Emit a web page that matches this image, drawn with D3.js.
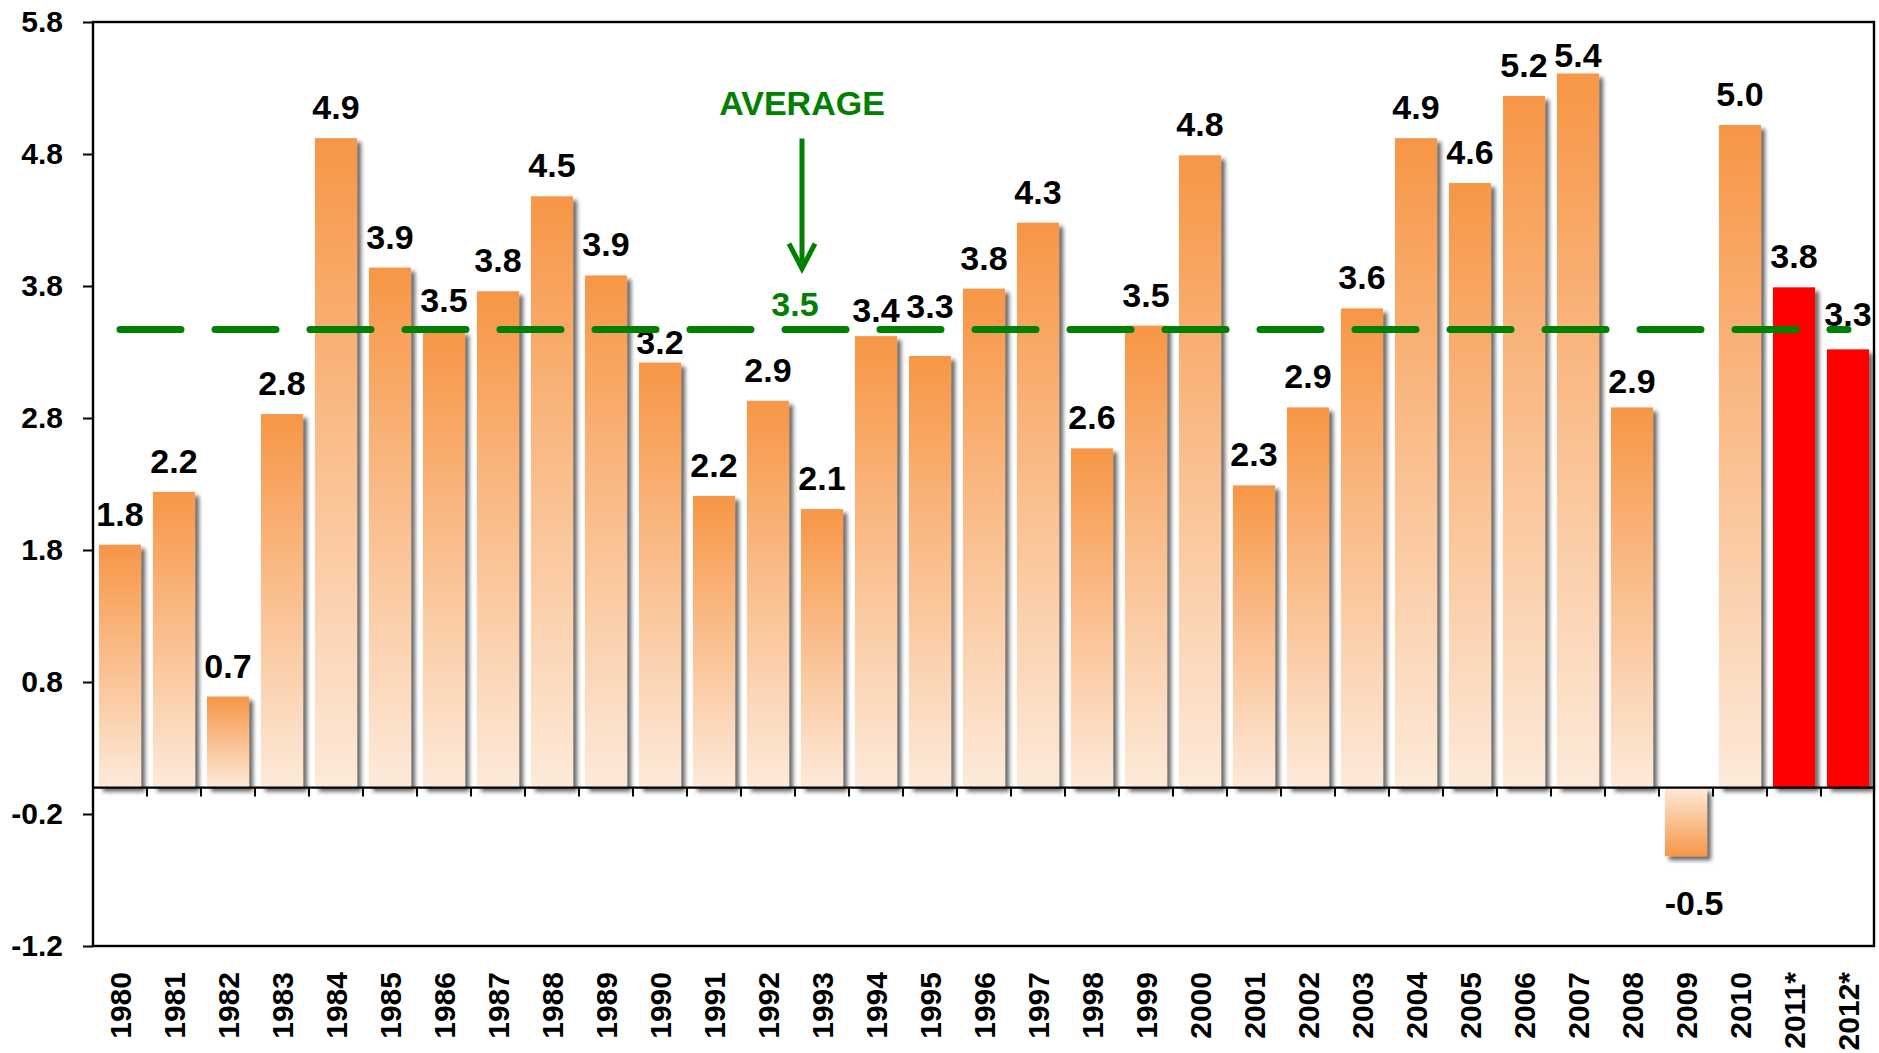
<!DOCTYPE html>
<html>
<head>
<meta charset="utf-8">
<script src="https://cdn.jsdelivr.net/npm/d3@7"></script>
<style>
  body { margin: 0; background: #fff; }
  text { font-family: "Liberation Sans", Arial, sans-serif; font-weight: bold; }
</style>
</head>
<body>
<div id="chart"></div>
<script>
// data
const years = ['1980','1981','1982','1983','1984','1985','1986','1987','1988','1989',
  '1990','1991','1992','1993','1994','1995','1996','1997','1998','1999',
  '2000','2001','2002','2003','2004','2005','2006','2007','2008','2009','2010','2011*','2012*']
const growth = [1.84, 2.24, 0.69, 2.83, 4.92, 3.94, 3.46, 3.76, 4.48, 3.88,
  3.22, 2.21, 2.93, 2.11, 3.42, 3.27, 3.78, 4.28, 2.57, 3.50,
  4.79, 2.29, 2.88, 3.63, 4.92, 4.58, 5.24, 5.41, 2.88, -0.52, 5.02, 3.79, 3.32]
const forecastYears = ['2011*', '2012*']
const average = 3.47
const yTicks = [-1.2, -0.2, 0.8, 1.8, 2.8, 3.8, 4.8, 5.8]

const width = 1879, height = 1053
const margin = {top: 22, right: 5, bottom: 107, left: 93}

// a few labels were moved by hand in the original
const labelShift = {'1990': 10, '1994': 5, '1995': -19, '2008': 5, '2012*': -4}

const data = years.map((y, i) => ({year: y, value: growth[i]}))

const svg = d3.select('#chart').append('svg')
    .attr('width', width)
    .attr('height', height)

const x = d3.scaleBand()
    .domain(years)
    .range([margin.left, width - margin.right + 1])

const y = d3.scaleLinear()
    .domain([yTicks[0], yTicks[yTicks.length - 1]])
    .range([height - margin.bottom, margin.top])

const bw = x.bandwidth()
const inset = bw * 0.11

const defs = svg.append('defs')
const mkGrad = (id, from, to) => {
    const g = defs.append('linearGradient').attr('id', id)
        .attr('x1', 0).attr('y1', 0).attr('x2', 0).attr('y2', 1)
    g.append('stop').attr('offset', '0%').attr('stop-color', from)
    g.append('stop').attr('offset', '100%').attr('stop-color', to)
}
mkGrad('gradPos', '#F79646', '#FDEADA')
mkGrad('gradNeg', '#FDEADA', '#F79646')

const shadow = defs.append('filter').attr('id', 'shadow')
    .attr('x', '-50%').attr('y', '-10%').attr('width', '200%').attr('height', '130%')
shadow.append('feDropShadow')
    .attr('dx', 4).attr('dy', 4).attr('stdDeviation', 2)
    .attr('flood-color', '#000').attr('flood-opacity', 0.6)

// bars
svg.append('g').selectAll('rect')
    .data(data)
    .join('rect')
    .attr('x', d => x(d.year) + inset)
    .attr('width', bw - 2 * inset)
    .attr('y', d => y(Math.max(0, d.value)))
    .attr('height', d => Math.abs(y(d.value) - y(0)))
    .attr('fill', d => forecastYears.includes(d.year) ? '#FF0000' : (d.value < 0 ? 'url(#gradNeg)' : 'url(#gradPos)'))
    .attr('filter', 'url(#shadow)')

// zero line with ticks between categories
const zero = svg.append('g')
zero.append('line')
    .attr('x1', margin.left).attr('x2', width - margin.right)
    .attr('y1', y(0)).attr('y2', y(0))
    .attr('stroke', '#000').attr('stroke-width', 2.4)
zero.selectAll('.tk')
    .data(years.slice(1))
    .join('line')
    .attr('class', 'tk')
    .attr('x1', d => x(d)).attr('x2', d => x(d))
    .attr('y1', y(0)).attr('y2', y(0) + 9)
    .attr('stroke', '#000').attr('stroke-width', 2)

// plot border
svg.append('rect')
    .attr('x', margin.left).attr('y', margin.top)
    .attr('width', width - margin.left - margin.right)
    .attr('height', height - margin.top - margin.bottom)
    .attr('fill', 'none').attr('stroke', '#000').attr('stroke-width', 2.4)

// y axis
const yAxis = svg.append('g')
    .attr('transform', `translate(${margin.left},0)`)
    .call(d3.axisLeft(y).tickValues(yTicks).tickSize(10).tickPadding(20)
        .tickFormat(d => d.toFixed(1)))
yAxis.select('.domain').remove()
yAxis.selectAll('line').attr('stroke', '#000').attr('stroke-width', 2)
yAxis.selectAll('text')
    .style('font-size', '30px')
    .style('font-family', '"Liberation Sans", Arial, sans-serif')
    .style('font-weight', 'bold')
    .attr('fill', '#000')

// x labels
svg.append('g').selectAll('text')
    .data(years)
    .join('text')
    .attr('transform', d => `translate(${x(d) + bw / 2},${height - margin.bottom + 26}) rotate(-90)`)
    .attr('text-anchor', 'end')
    .attr('dy', '0.35em')
    .style('font-size', '30px')
    .text(d => d)

// value labels
svg.append('g').selectAll('text')
    .data(data)
    .join('text')
    .attr('x', d => x(d.year) + bw / 2 + (d.value < 0 ? 8 : 0))
    .attr('y', d => d.value < 0 ? y(d.value) + 59
        : Math.max(y(d.value) - 19 + (labelShift[d.year] || 0), margin.top + 45))
    .attr('text-anchor', 'middle')
    .style('font-size', '34px')
    .text(d => d.value.toFixed(1))

// average line
const green = '#008000'
const ya = y(average)
svg.append('line')
    .attr('x1', x(years[0]) + bw / 2)
    .attr('x2', x(years[years.length - 1]) + bw / 2)
    .attr('y1', ya).attr('y2', ya)
    .attr('stroke', green).attr('stroke-width', 7)
    .attr('stroke-linecap', 'round')
    .attr('stroke-dasharray', '61 34')

svg.append('text')
    .attr('x', x('1993'))
    .attr('y', ya - 14)
    .attr('text-anchor', 'middle')
    .attr('fill', green)
    .style('font-size', '34px')
    .text(average.toFixed(1))

// AVERAGE annotation with arrow
const ax = x('1993') + 7
svg.append('text')
    .attr('x', ax)
    .attr('y', ya - 215)
    .attr('text-anchor', 'middle')
    .attr('fill', green)
    .style('font-size', '34px')
    .text('AVERAGE')

const tip = ya - 61
svg.append('line')
    .attr('x1', ax).attr('x2', ax)
    .attr('y1', ya - 191).attr('y2', tip - 2)
    .attr('stroke', green).attr('stroke-width', 5)
svg.append('polyline')
    .attr('points', `${ax - 13},${tip - 25} ${ax},${tip} ${ax + 13},${tip - 25}`)
    .attr('fill', 'none')
    .attr('stroke', green).attr('stroke-width', 5)
</script>
</body>
</html>
